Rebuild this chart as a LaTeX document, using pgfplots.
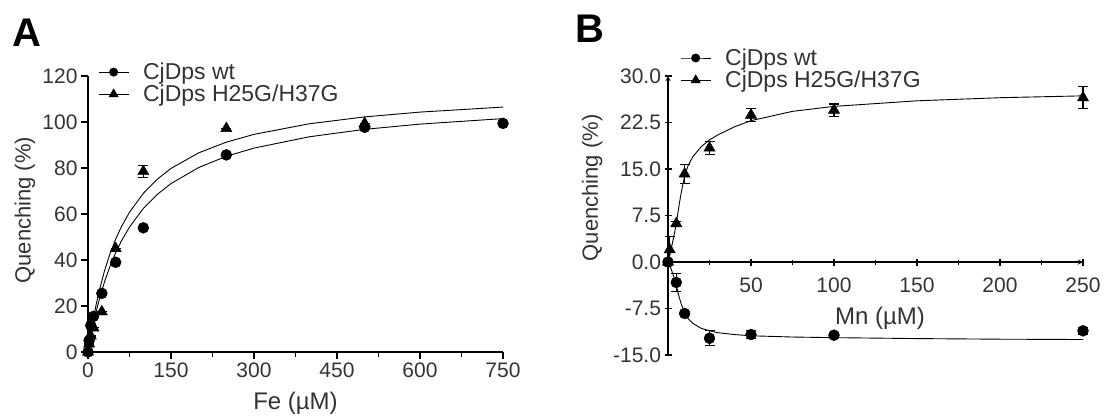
\documentclass[border=0pt]{standalone}
\usepackage{fontspec}
\setmainfont{Liberation Sans}
\usepackage{pgfplots}
\pgfplotsset{compat=1.18}
\begin{document}
\begin{tikzpicture}[x=1pt,y=1pt]
\useasboundingbox (0,0) rectangle (1113,-416);
\pgfplotsset{
 myaxis/.style={
  scale only axis, clip=false,
  axis line style={line width=1.3pt,-},
  tick style={line width=1.3pt,black},
  major tick length=7pt, minor tick length=5pt,
  tick align=outside,
  tick label style={font=\fontsize{21}{25}\selectfont, text=black!80},
  label style={font=\fontsize{22}{26}\selectfont, text=black!80},
  /pgf/number format/assume math mode=true,
  legend style={draw=none, fill=none, font=\fontsize{23}{25}\selectfont, text=black!80, anchor=north west, row sep=0pt, inner sep=0pt,
     /tikz/every odd column/.append style={column sep=12pt}},
  legend cell align=left,
  legend image code/.code={\draw[mark repeat=2,mark phase=2] plot coordinates {(0pt,0pt)(15pt,0pt)(30pt,0pt)};},
 },
 fitline/.style={black, line width=0.9pt, no marks, forget plot},
 wtpts/.style={black, only marks, mark=*, mark size=5.5pt, forget plot,
   error bars/.cd, y dir=both, y explicit, error bar style={line width=1.2pt, black},
   error mark options={black, mark size=5pt, line width=1.2pt, rotate=90}},
 mupts/.style={black, only marks, mark=triangle*, mark size=6.5pt, forget plot,
   error bars/.cd, y dir=both, y explicit, error bar style={line width=1.2pt, black},
   error mark options={black, mark size=5pt, line width=1.2pt, rotate=90}},
}
\node[font=\bfseries\fontsize{40}{40}\selectfont] at (27,-33) {A};
\node[font=\bfseries\fontsize{40}{40}\selectfont] at (590,-29) {B};

% Panel A
\begin{axis}[myaxis,
  at={(88pt,-352pt)}, anchor=south west,
  width=415pt, height=276pt,
  axis lines*=left,
  xmin=0, xmax=750, ymin=0, ymax=120,
  xtick={0,150,300,450,600,750}, minor x tick num=1,
  ytick={0,20,40,60,80,100,120},
  xlabel={Fe (µM)}, ylabel={Quenching (\%)},
  xlabel style={at={(axis description cs:0.5,-0.185)}, anchor=center, font=\fontsize{24}{26}\selectfont},
  ylabel style={at={(axis description cs:-0.152,0.514)}, anchor=center, rotate=0},
  legend style={at={(axis description cs:0.024,1.055)}},
]
\addlegendimage{black, line width=0.9pt, mark=*, mark size=4pt, mark options={solid}}
\addlegendentry{CjDps wt}
\addlegendimage{black, line width=0.9pt, mark=triangle*, mark size=5pt, mark options={solid}}
\addlegendentry{CjDps H25G/H37G}
\addplot[fitline] coordinates {(0,0)(5,6.61)(10,12.48)(15,17.73)(20,22.46)(30,30.63)(40,37.43)(50,43.19)(60,48.13)(75,54.34)(100,62.39)(125,68.48)(150,73.24)(200,80.21)(250,85.08)(300,88.66)(400,93.58)(500,96.81)(600,99.09)(750,101.48)};
\addplot[fitline] coordinates {(0,0)(5,7.92)(10,14.82)(15,20.90)(20,26.29)(30,35.43)(40,42.88)(50,49.07)(60,54.30)(75,60.77)(100,69.00)(125,75.10)(150,79.81)(200,86.59)(250,91.24)(300,94.63)(400,99.23)(500,102.22)(600,104.31)(750,106.49)};
\addplot[mupts] coordinates {(0,0) +- (0,0) (2,3.5) +- (0,0) (5,7) +- (0,0) (10,10.5) +- (0,0) (25,17.5) +- (0,0) (50,45) +- (0,0) (100,78.5) +- (0,2.5) (250,97.2) +- (0,0) (500,99.4) +- (0,0)};
\addplot[wtpts] coordinates {(0,0) +- (0,0) (2,5) +- (0,0) (5,11.5) +- (0,0) (10,15.5) +- (0,0) (25,25.5) +- (0,0) (50,39) +- (0,0) (100,54) +- (0,0) (250,85.7) +- (0,0) (500,97.7) +- (0,0) (750,99.4) +- (0,0)};
\end{axis}

% Panel B
\begin{axis}[myaxis,
  at={(668pt,-355pt)}, anchor=south west,
  width=415pt, height=279pt,
  axis x line=middle, axis y line=left,
  xmin=0, xmax=250, ymin=-15, ymax=30,
  xtick={0,50,100,150,200,250}, xticklabels={,50,100,150,200,250}, minor x tick num=1,
  xticklabel style={yshift=-9pt},
  ytick={-15,-7.5,0,7.5,15,22.5,30},
  yticklabel style={/pgf/number format/.cd, fixed, fixed zerofill, precision=1},
  xlabel={Mn (µM)}, ylabel={Quenching (\%)},
  xlabel style={at={(axis cs:127.7,-9.1)}, anchor=center, font=\fontsize{24}{26}\selectfont, text=black!80},
  ylabel style={at={(axis description cs:-0.183,0.599)}, anchor=center, rotate=0},
  legend style={at={(axis description cs:0.029,1.105)}},
]
\addlegendimage{black, line width=0.9pt, mark=*, mark size=4pt, mark options={solid}}
\addlegendentry{CjDps wt}
\addlegendimage{black, line width=0.9pt, mark=triangle*, mark size=5pt, mark options={solid}}
\addlegendentry{CjDps H25G/H37G}
\addplot[fitline] coordinates {(0,0)(1,1.0)(2,2.2)(3,3.5)(4,4.8)(5,6.3)(6,8.0)(7,9.7)(8,11.2)(9,12.6)(10,13.8)(12,15.5)(15,17.0)(20,18.6)(25,19.7)(30,20.5)(40,21.8)(50,22.8)(75,24.3)(100,25.1)(150,26.0)(200,26.5)(250,26.8)};
\addplot[fitline] coordinates {(0,0)(1,-0.5)(2,-1.2)(3,-2.0)(4,-2.8)(5,-3.8)(6,-4.9)(7,-5.9)(8,-6.8)(10,-8.2)(12,-9.1)(15,-9.9)(20,-10.7)(25,-11.1)(30,-11.4)(40,-11.7)(50,-11.9)(75,-12.1)(100,-12.2)(150,-12.35)(200,-12.45)(250,-12.5)};
\addplot[mupts] coordinates {(0,0) +- (0,0) (1,2.0) +- (0,2.1) (5,6.2) +- (0,0.3) (10,14.2) +- (0,1.5) (25,18.4) +- (0,1.0) (50,23.7) +- (0,1.0) (100,24.5) +- (0,1.0) (250,26.5) +- (0,1.8)};
\addplot[wtpts] coordinates {(0,0) +- (0,0) (5,-3.3) +- (0,1.5) (10,-8.3) +- (0,0.3) (25,-12.3) +- (0,1.2) (50,-11.7) +- (0,0.6) (100,-11.8) +- (0,0.3) (250,-11.1) +- (0,0.5)};
\end{axis}
\end{tikzpicture}
\end{document}
